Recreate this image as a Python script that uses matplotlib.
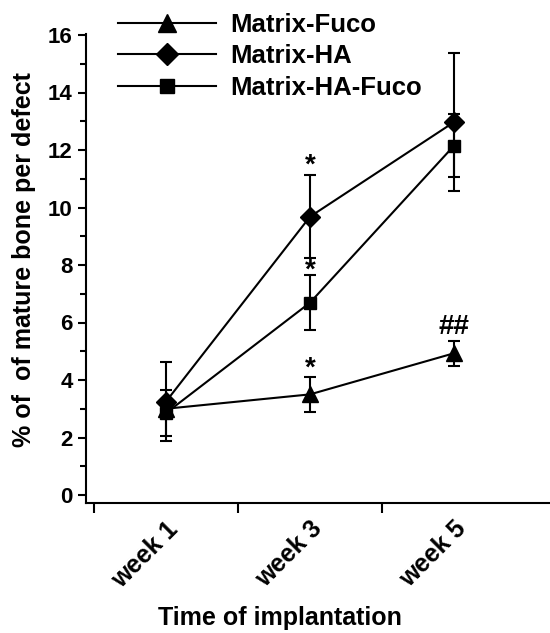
import numpy as np
import matplotlib.pyplot as plt
from matplotlib.ticker import MultipleLocator, FixedLocator
from matplotlib.transforms import ScaledTranslation

plt.rcParams['font.family'] = ['Liberation Sans', 'DejaVu Sans']
plt.rcParams['font.weight'] = 'bold'

# Datos
semanas = ["week 1", "week 3", "week 5"]
x = np.array([1, 2, 3])

fuco = [3.0, 3.5, 4.93]
fuco_err = [0.3, 0.6, 0.43]
ha = [3.25, 9.68, 12.97]
ha_err = [1.36, 1.45, 2.39]
ha_fuco = [2.85, 6.69, 12.15]
ha_fuco_err = [0.8, 0.95, 1.1]

marcas = [("*", 2, 11.45), ("*", 2, 7.8), ("*", 2, 4.4), ("##", 3, 5.85)]

fig = plt.figure(figsize=(5.5, 6.33), dpi=100)
ax = fig.add_axes([86/550, 130/633, 1 - 86/550, (503 - 34)/633])

estilo = dict(color="black", lw=1.5, capsize=4, elinewidth=1.5, capthick=1.5)
ax.errorbar(x, fuco, yerr=fuco_err, marker="^", ms=11, label="Matrix-Fuco", **estilo)
ax.errorbar(x, ha, yerr=ha_err, marker="D", ms=10, label="Matrix-HA", **estilo)
ax.errorbar(x, ha_fuco, yerr=ha_fuco_err, marker="s", ms=9, label="Matrix-HA-Fuco", **estilo)

for txt, xi, yi in marcas:
    ax.text(xi, yi, txt, ha="center", va="center", fontsize=20, fontweight="bold")

ax.set_xlim(0.5 - 8/144, 0.5 + 456/144)
ax.set_ylim(-8/28.75, 16 + 1/28.75)

ax.set_xticks(x)
ax.set_xticklabels(semanas, rotation=45, ha="right", rotation_mode="anchor", fontsize=18)
desplaza = ScaledTranslation(-6/100, 0, fig.dpi_scale_trans)
for lab in ax.get_xticklabels():
    lab.set_transform(lab.get_transform() + desplaza)
ax.xaxis.set_minor_locator(FixedLocator([0.5, 1.5, 2.5]))
ax.tick_params(axis="x", which="major", length=0, pad=10)
ax.tick_params(axis="x", which="minor", length=7, width=1.5)

ax.set_yticks(np.arange(0, 17, 2))
ax.yaxis.set_minor_locator(MultipleLocator(1))
ax.tick_params(axis="y", which="major", length=6, width=1.5, labelsize=16)
ax.tick_params(axis="y", which="minor", length=4, width=1.5)

for lado in ["top", "right"]:
    ax.spines[lado].set_visible(False)
for lado in ["left", "bottom"]:
    ax.spines[lado].set_linewidth(1.5)

ax.set_ylabel("% of  of mature bone per defect", fontsize=18, fontweight="bold")
ax.yaxis.set_label_coords(-0.108, (503 - 260)/469)
fig.text(280/550, 1 - 618/633, "Time of implantation", ha="center", va="center",
         fontsize=18, fontweight="bold")

handles, labels = ax.get_legend_handles_labels()
handles = [h[0] for h in handles]
ax.legend(handles, labels, loc="upper left", bbox_to_anchor=(108/550, 1 - 3/633),
          bbox_transform=fig.transFigure, frameon=False, fontsize=18.5, markerscale=1.15,
          handlelength=3.8, handletextpad=0.55, labelspacing=0.28, borderaxespad=0)

fig.savefig("out.png", dpi=100)
